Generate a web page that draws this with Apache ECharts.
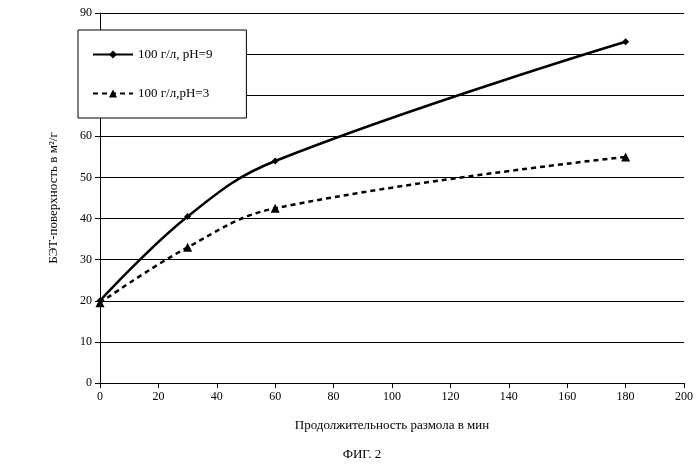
<!DOCTYPE html>
<html><head><meta charset="utf-8">
<script src="https://cdn.jsdelivr.net/npm/echarts@6/dist/echarts.min.js"></script>
<style>html,body{margin:0;background:#fff}#c{width:700px;height:470px}</style>
</head><body><div id="c"></div>
<script>
const xTicks = [0,20,40,60,80,100,120,140,160,180,200];
const seriesNames = ['100 г/л, pH=9', '100 г/л,pH=3'];
const xValues = [0, 30, 60, 180];
const ph9 = [20, 40.5, 54, 83];
const ph3 = [19.5, 33, 42.5, 55];
const F = 'Liberation Serif';
const chart = echarts.init(document.getElementById('c'));
chart.setOption({
  animation:false,
  textStyle:{fontFamily:F,color:'#000'},
  grid:{left:100,right:16,top:13,bottom:87},
  title:{text:'ФИГ. 2',left:357,top:443,textAlign:'center',textStyle:{fontFamily:F,fontSize:13,fontWeight:'normal',color:'#000'}},
  legend:{left:78,top:30,orient:'vertical',itemGap:26,padding:[18,34,18,14],
    backgroundColor:'#fff',borderColor:'#000',borderWidth:1,itemWidth:40,itemHeight:10,
    textStyle:{fontFamily:F,fontSize:13,color:'#000'},data:seriesNames},
  xAxis:{type:'value',min:0,max:200,interval:20,
    name:'Продолжительность размола в мин',nameLocation:'middle',nameGap:36,
    nameTextStyle:{fontFamily:F,fontSize:13,color:'#000'},
    axisLine:{lineStyle:{color:'#000'}},axisTick:{show:true,lineStyle:{color:'#000'}},
    axisLabel:{fontFamily:F,fontSize:12,color:'#000'},splitLine:{show:false}},
  yAxis:{type:'value',min:0,max:90,interval:10,
    name:'БЭТ-поверхность в м²/г',nameLocation:'middle',nameGap:40,
    nameTextStyle:{fontFamily:F,fontSize:13,color:'#000'},
    axisLine:{show:true,lineStyle:{color:'#000'}},axisTick:{show:true,lineStyle:{color:'#000'}},
    axisLabel:{fontFamily:F,fontSize:12,color:'#000'},
    splitLine:{show:true,lineStyle:{color:'#000',width:1}}},
  series:[
    {name:seriesNames[0],type:'line',smooth:0.4,data:xValues.map((x,i)=>[x,ph9[i]]),
     symbol:'diamond',symbolSize:7,lineStyle:{color:'#000',width:2.5},itemStyle:{color:'#000'}},
    {name:seriesNames[1],type:'line',smooth:0.4,data:xValues.map((x,i)=>[x,ph3[i]]),
     symbol:'triangle',symbolSize:9,lineStyle:{color:'#000',width:2.5,type:[5,4]},itemStyle:{color:'#000'}}
  ]
});
</script></body></html>
